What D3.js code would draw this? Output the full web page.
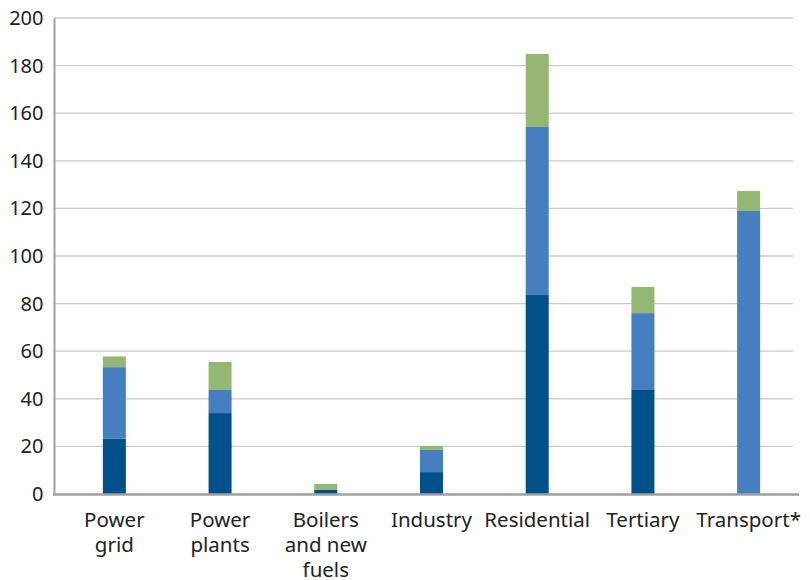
<!DOCTYPE html>
<html>
<head>
<meta charset="utf-8">
<script src="https://cdn.jsdelivr.net/npm/d3@7"></script>
<style>
  html, body { margin: 0; padding: 0; background: #fff; }
  svg text { font-family: "Noto Sans", sans-serif; fill: #222; }
</style>
</head>
<body>
<svg id="chart" width="810" height="580"></svg>
<script>
// Sector categories (line breaks shown with "\n")
const categories = ["Power\ngrid", "Power\nplants", "Boilers\nand new\nfuels", "Industry", "Residential", "Tertiary", "Transport*"];
// Stacked series, bottom to top
const seriesDark  = [23.3, 34.0, 1.7, 9.2, 83.6, 43.7, 0];
const seriesBlue  = [30.0, 9.7, 0, 9.3, 70.6, 32.3, 118.9];
const seriesGreen = [4.5, 11.8, 2.5, 1.7, 30.7, 11.0, 8.4];
const yTicks = [0, 20, 40, 60, 80, 100, 120, 140, 160, 180, 200];

const seriesKeys = ["dark", "blue", "green"];
const colors = { dark: "#00508a", blue: "#467ec0", green: "#95b774" };

const rows = categories.map((c, i) => ({
  cat: c, dark: seriesDark[i], blue: seriesBlue[i], green: seriesGreen[i]
}));

const svg = d3.select("#chart");
const plotLeft = 54, plotTop = 18, plotBottom = 494, gridRight = 793, axisRight = 799;

const x = d3.scaleBand().domain(categories).range([61.5, 801.5]);
const y = d3.scaleLinear().domain([0, 200]).range([plotBottom, plotTop]);
const barW = 23;

// Horizontal gridlines
svg.append("g").selectAll("line").data(yTicks.filter(t => t > 0)).join("line")
  .attr("x1", plotLeft).attr("x2", gridRight)
  .attr("y1", d => y(d)).attr("y2", d => y(d))
  .attr("stroke", "#c9c9c9").attr("stroke-width", 1.3);

// Stacked bars
const stack = d3.stack().keys(seriesKeys)(rows);
svg.append("g").selectAll("g").data(stack).join("g")
  .attr("fill", d => colors[d.key])
  .selectAll("rect").data(d => d).join("rect")
  .attr("x", d => x(d.data.cat) + x.bandwidth() / 2 - barW / 2)
  .attr("width", barW)
  .attr("y", d => y(d[1]))
  .attr("height", d => Math.max(0, y(d[0]) - y(d[1])));

// Y axis
const yAxis = svg.append("g").attr("transform", `translate(${plotLeft},0)`)
  .call(d3.axisLeft(y).tickValues(yTicks).tickSize(0).tickPadding(10.5));
yAxis.select(".domain").attr("stroke", "#a0a0a0").attr("stroke-width", 2);
yAxis.selectAll("text").attr("font-size", 20).attr("font-family", "'Noto Sans', sans-serif").attr("fill", "#222");

// X baseline
svg.append("line").attr("x1", plotLeft - 1).attr("x2", axisRight)
  .attr("y1", plotBottom + 0.5).attr("y2", plotBottom + 0.5)
  .attr("stroke", "#a0a0a0").attr("stroke-width", 2.5);

// Category labels
const lab = svg.append("g").selectAll("text").data(categories).join("text")
  .attr("text-anchor", "middle")
  .attr("font-size", 20.5)
  .attr("x", d => x(d) + x.bandwidth() / 2)
  .attr("y", 526.5);
lab.selectAll("tspan").data(d => d.split("\n")).join("tspan")
  .attr("x", function () { return d3.select(this.parentNode).attr("x"); })
  .attr("dy", (d, i) => i === 0 ? 0 : 25.3)
  .text(d => d);
</script>
</body>
</html>
